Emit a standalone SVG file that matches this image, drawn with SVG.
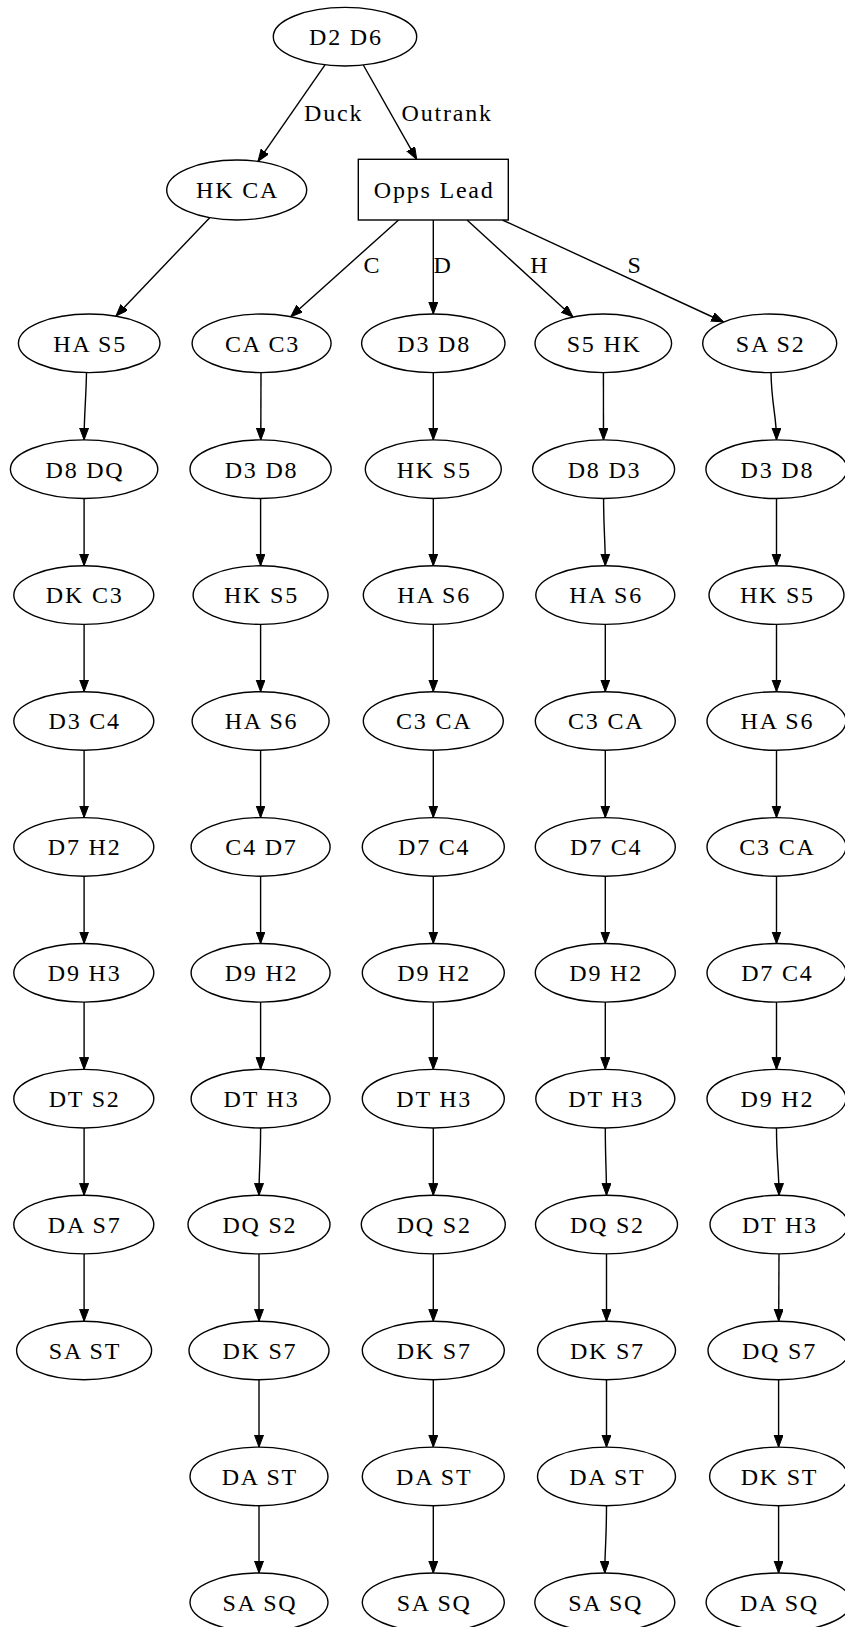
<svg xmlns="http://www.w3.org/2000/svg" width="845" height="1627" viewBox="0 0 845 1627">
<style>
.n ellipse,.n rect{fill:#fff;stroke:#000;stroke-width:1.4}
text{font-family:'Liberation Serif','Times New Roman',serif;font-size:24px;letter-spacing:1.8px;text-anchor:middle;fill:#000}
.e path{fill:none;stroke:#000;stroke-width:1.4;marker-end:url(#arr)}
</style>
<defs>
<marker id="arr" markerUnits="userSpaceOnUse" markerWidth="14" markerHeight="10" refX="12" refY="4.5" orient="auto"><path d="M0,0 L12,4.5 L0,9 z" fill="#000" stroke="#000" stroke-width="1"/></marker>
</defs>
<rect width="845" height="1627" fill="#fff"/>
<g id="edges" class="e">
<path d="M325,64.8 L258,161.4"/>
<path d="M363.3,65 L416.7,159.3"/>
<path d="M209.7,217.7 L116,316"/>
<path d="M398.6,220 L290.7,316.7"/>
<path d="M433.3,220 L433.3,314"/>
<path d="M467,220 L573,317"/>
<path d="M502.4,220 L723.5,322"/>
<path d="M86.5,372.6 C86,400 84.1,415 84.1,439.9"/>
<path d="M84.1,498.5 L84.1,565.8"/>
<path d="M84.1,624.4 L84.1,691.7"/>
<path d="M84.1,750.3 L84.1,817.6"/>
<path d="M84.1,876.2 L84.1,943.5"/>
<path d="M84.1,1002.1 L84.1,1069.4"/>
<path d="M84.1,1128 L84.1,1195.3"/>
<path d="M84.1,1253.9 L84.1,1321.2"/>
<path d="M261,372.6 L260.8,439.9"/>
<path d="M260.6,498.5 L260.6,565.8"/>
<path d="M260.6,624.4 L260.6,691.7"/>
<path d="M260.6,750.3 L260.6,817.6"/>
<path d="M260.6,876.2 L260.6,943.5"/>
<path d="M260.6,1002.1 L260.6,1069.4"/>
<path d="M260.6,1128 C260.6,1160 259,1170 259,1195.3"/>
<path d="M259,1253.9 L259,1321.2"/>
<path d="M259,1379.8 L259,1447.1"/>
<path d="M259,1505.7 L259,1573"/>
<path d="M433.3,372.6 L433.3,439.9"/>
<path d="M433.3,498.5 L433.3,565.8"/>
<path d="M433.3,624.4 L433.3,691.7"/>
<path d="M433.3,750.3 L433.3,817.6"/>
<path d="M433.3,876.2 L433.3,943.5"/>
<path d="M433.3,1002.1 L433.3,1069.4"/>
<path d="M433.3,1128 L433.3,1195.3"/>
<path d="M433.3,1253.9 L433.3,1321.2"/>
<path d="M433.3,1379.8 L433.3,1447.1"/>
<path d="M433.3,1505.7 L433.3,1573"/>
<path d="M603.4,372.6 L603.5,439.9"/>
<path d="M603.6,498.5 C603.6,530 605.3,540 605.3,565.8"/>
<path d="M605.3,624.4 L605.3,691.7"/>
<path d="M605.3,750.3 L605.3,817.6"/>
<path d="M605.3,876.2 L605.3,943.5"/>
<path d="M605.3,1002.1 L605.3,1069.4"/>
<path d="M605.3,1128 C605.3,1160 606.5,1170 606.5,1195.3"/>
<path d="M606.5,1253.9 L606.5,1321.2"/>
<path d="M606.5,1379.8 L606.5,1447.1"/>
<path d="M606.5,1505.7 C606.5,1540 604.8,1550 604.8,1573"/>
<path d="M771,372.6 C771.5,405 776.5,415 776.5,439.9"/>
<path d="M776.5,498.5 L776.5,565.8"/>
<path d="M776.5,624.4 L776.5,691.7"/>
<path d="M776.5,750.3 L776.5,817.6"/>
<path d="M776.5,876.2 L776.5,943.5"/>
<path d="M776.5,1002.1 L776.5,1069.4"/>
<path d="M776.5,1128 C776.5,1160 779,1170 779,1195.3"/>
<path d="M779,1253.9 L778.7,1321.2"/>
<path d="M778.6,1379.8 L778.6,1447.1"/>
<path d="M778.6,1505.7 L778.6,1573"/>
<text x="333.7" y="120.5">Duck</text>
<text x="447.2" y="120.5">Outrank</text>
<text x="372.5" y="272.5">C</text>
<text x="443.1" y="272.5">D</text>
<text x="539.7" y="272.5">H</text>
<text x="635.2" y="272.5">S</text>
</g>
<g id="root" class="n"><ellipse cx="345" cy="36.7" rx="71.7" ry="29.3"/><text x="345.9" y="45">D2 D6</text></g>
<g id="hkca" class="n"><ellipse cx="236.7" cy="190" rx="70" ry="30"/><text x="237.6" y="198.3">HK CA</text></g>
<g id="opps" class="n"><rect x="358.3" y="159.3" width="150" height="60.7"/><text x="434.2" y="197.7">Opps Lead</text></g>
<g id="a2" class="n"><ellipse cx="89.2" cy="343.3" rx="70.8" ry="29.3"/><text x="90.1" y="351.6">HA S5</text></g>
<g id="a3" class="n"><ellipse cx="84.1" cy="469.2" rx="73.7" ry="29.3"/><text x="85" y="477.5">D8 DQ</text></g>
<g id="a4" class="n"><ellipse cx="83.8" cy="595.1" rx="70" ry="29.3"/><text x="84.7" y="603.4">DK C3</text></g>
<g id="a5" class="n"><ellipse cx="83.8" cy="721" rx="70" ry="29.3"/><text x="84.7" y="729.3">D3 C4</text></g>
<g id="a6" class="n"><ellipse cx="83.8" cy="846.9" rx="70" ry="29.3"/><text x="84.7" y="855.2">D7 H2</text></g>
<g id="a7" class="n"><ellipse cx="83.8" cy="972.8" rx="70" ry="29.3"/><text x="84.7" y="981.1">D9 H3</text></g>
<g id="a8" class="n"><ellipse cx="83.8" cy="1098.7" rx="70" ry="29.3"/><text x="84.7" y="1107">DT S2</text></g>
<g id="a9" class="n"><ellipse cx="83.8" cy="1224.6" rx="70" ry="29.3"/><text x="84.7" y="1232.9">DA S7</text></g>
<g id="a10" class="n"><ellipse cx="84.1" cy="1350.5" rx="67.5" ry="29.3"/><text x="85" y="1358.8">SA ST</text></g>
<g id="b2" class="n"><ellipse cx="261.6" cy="343.3" rx="69.5" ry="29.3"/><text x="262.5" y="351.6">CA C3</text></g>
<g id="b3" class="n"><ellipse cx="260.6" cy="469.2" rx="70.6" ry="29.3"/><text x="261.5" y="477.5">D3 D8</text></g>
<g id="b4" class="n"><ellipse cx="260.6" cy="595.1" rx="67.5" ry="29.3"/><text x="261.5" y="603.4">HK S5</text></g>
<g id="b5" class="n"><ellipse cx="260.6" cy="721" rx="68.5" ry="29.3"/><text x="261.5" y="729.3">HA S6</text></g>
<g id="b6" class="n"><ellipse cx="260.6" cy="846.9" rx="69.5" ry="29.3"/><text x="261.5" y="855.2">C4 D7</text></g>
<g id="b7" class="n"><ellipse cx="260.6" cy="972.8" rx="69.5" ry="29.3"/><text x="261.5" y="981.1">D9 H2</text></g>
<g id="b8" class="n"><ellipse cx="260.6" cy="1098.7" rx="69.5" ry="29.3"/><text x="261.5" y="1107">DT H3</text></g>
<g id="b9" class="n"><ellipse cx="259" cy="1224.6" rx="71" ry="29.3"/><text x="259.9" y="1232.9">DQ S2</text></g>
<g id="b10" class="n"><ellipse cx="259" cy="1350.5" rx="70" ry="29.3"/><text x="259.9" y="1358.8">DK S7</text></g>
<g id="b11" class="n"><ellipse cx="259" cy="1476.4" rx="69" ry="29.3"/><text x="259.9" y="1484.7">DA ST</text></g>
<g id="b12" class="n"><ellipse cx="259" cy="1602.3" rx="69" ry="29.3"/><text x="259.9" y="1610.6">SA SQ</text></g>
<g id="c2" class="n"><ellipse cx="433.3" cy="343.3" rx="71.7" ry="29.3"/><text x="434.2" y="351.6">D3 D8</text></g>
<g id="c3" class="n"><ellipse cx="433.3" cy="469.2" rx="68" ry="29.3"/><text x="434.2" y="477.5">HK S5</text></g>
<g id="c4" class="n"><ellipse cx="433.3" cy="595.1" rx="70" ry="29.3"/><text x="434.2" y="603.4">HA S6</text></g>
<g id="c5" class="n"><ellipse cx="433.3" cy="721" rx="70" ry="29.3"/><text x="434.2" y="729.3">C3 CA</text></g>
<g id="c6" class="n"><ellipse cx="433.3" cy="846.9" rx="71" ry="29.3"/><text x="434.2" y="855.2">D7 C4</text></g>
<g id="c7" class="n"><ellipse cx="433.3" cy="972.8" rx="71" ry="29.3"/><text x="434.2" y="981.1">D9 H2</text></g>
<g id="c8" class="n"><ellipse cx="433.3" cy="1098.7" rx="71" ry="29.3"/><text x="434.2" y="1107">DT H3</text></g>
<g id="c9" class="n"><ellipse cx="433.3" cy="1224.6" rx="72" ry="29.3"/><text x="434.2" y="1232.9">DQ S2</text></g>
<g id="c10" class="n"><ellipse cx="433.3" cy="1350.5" rx="71" ry="29.3"/><text x="434.2" y="1358.8">DK S7</text></g>
<g id="c11" class="n"><ellipse cx="433.3" cy="1476.4" rx="71" ry="29.3"/><text x="434.2" y="1484.7">DA ST</text></g>
<g id="c12" class="n"><ellipse cx="433.3" cy="1602.3" rx="71" ry="29.3"/><text x="434.2" y="1610.6">SA SQ</text></g>
<g id="d2" class="n"><ellipse cx="603.3" cy="343.3" rx="68.3" ry="29.3"/><text x="604.2" y="351.6">S5 HK</text></g>
<g id="d3" class="n"><ellipse cx="603.6" cy="469.2" rx="71" ry="29.3"/><text x="604.5" y="477.5">D8 D3</text></g>
<g id="d4" class="n"><ellipse cx="605.3" cy="595.1" rx="69.5" ry="29.3"/><text x="606.2" y="603.4">HA S6</text></g>
<g id="d5" class="n"><ellipse cx="605.3" cy="721" rx="70" ry="29.3"/><text x="606.2" y="729.3">C3 CA</text></g>
<g id="d6" class="n"><ellipse cx="605.3" cy="846.9" rx="70" ry="29.3"/><text x="606.2" y="855.2">D7 C4</text></g>
<g id="d7" class="n"><ellipse cx="605.3" cy="972.8" rx="70" ry="29.3"/><text x="606.2" y="981.1">D9 H2</text></g>
<g id="d8" class="n"><ellipse cx="605.3" cy="1098.7" rx="69.5" ry="29.3"/><text x="606.2" y="1107">DT H3</text></g>
<g id="d9" class="n"><ellipse cx="606.5" cy="1224.6" rx="71" ry="29.3"/><text x="607.4" y="1232.9">DQ S2</text></g>
<g id="d10" class="n"><ellipse cx="606.5" cy="1350.5" rx="69" ry="29.3"/><text x="607.4" y="1358.8">DK S7</text></g>
<g id="d11" class="n"><ellipse cx="606.5" cy="1476.4" rx="69" ry="29.3"/><text x="607.4" y="1484.7">DA ST</text></g>
<g id="d12" class="n"><ellipse cx="604.8" cy="1602.3" rx="70" ry="29.3"/><text x="605.7" y="1610.6">SA SQ</text></g>
<g id="e2" class="n"><ellipse cx="769.7" cy="343.3" rx="67" ry="29.3"/><text x="770.6" y="351.6">SA S2</text></g>
<g id="e3" class="n"><ellipse cx="776.5" cy="469.2" rx="70.6" ry="29.3"/><text x="777.4" y="477.5">D3 D8</text></g>
<g id="e4" class="n"><ellipse cx="776.5" cy="595.1" rx="67.5" ry="29.3"/><text x="777.4" y="603.4">HK S5</text></g>
<g id="e5" class="n"><ellipse cx="776.5" cy="721" rx="69.5" ry="29.3"/><text x="777.4" y="729.3">HA S6</text></g>
<g id="e6" class="n"><ellipse cx="776.5" cy="846.9" rx="69.5" ry="29.3"/><text x="777.4" y="855.2">C3 CA</text></g>
<g id="e7" class="n"><ellipse cx="776.5" cy="972.8" rx="69.5" ry="29.3"/><text x="777.4" y="981.1">D7 C4</text></g>
<g id="e8" class="n"><ellipse cx="776.5" cy="1098.7" rx="69.5" ry="29.3"/><text x="777.4" y="1107">D9 H2</text></g>
<g id="e9" class="n"><ellipse cx="779" cy="1224.6" rx="69" ry="29.3"/><text x="779.9" y="1232.9">DT H3</text></g>
<g id="e10" class="n"><ellipse cx="778.6" cy="1350.5" rx="70.6" ry="29.3"/><text x="779.5" y="1358.8">DQ S7</text></g>
<g id="e11" class="n"><ellipse cx="778.6" cy="1476.4" rx="69" ry="29.3"/><text x="779.5" y="1484.7">DK ST</text></g>
<g id="e12" class="n"><ellipse cx="778.6" cy="1602.3" rx="72.5" ry="29.3"/><text x="779.5" y="1610.6">DA SQ</text></g>
</svg>
